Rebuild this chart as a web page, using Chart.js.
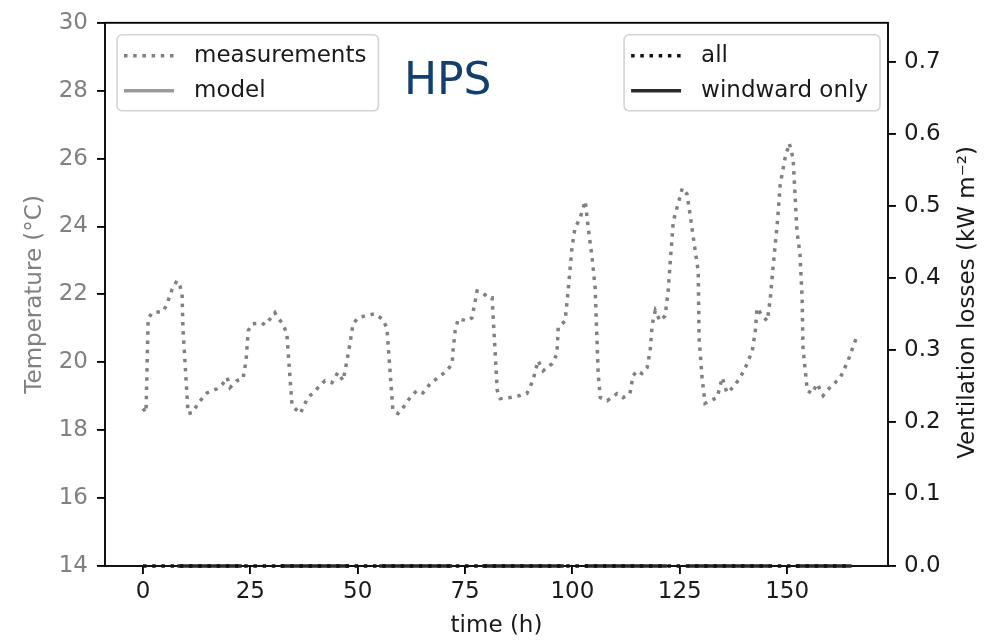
<!DOCTYPE html>
<html>
<head>
<meta charset="utf-8">
<script src="https://cdn.jsdelivr.net/npm/chart.js@4"></script>
<style>
  body { margin: 0; background: #fff; }
</style>
</head>
<body>
<canvas id="hpsChart" width="998" height="640"></canvas>
<script>
const measHours = [0,0.7,1.2,2.1,4.7,5.6,6.8,7.9,8.6,9.1,9.3,10.5,11.6,12.8,14.9,17.2,18.6,19.6,20.3,21.9,23.3,24.0,24.5,25.4,27.7,28.4,29.6,30.7,31.4,32.6,33.5,34.7,36.6,38.4,39.6,40.8,42.4,44.0,45.4,46.6,47.5,48.2,48.9,50.1,51.7,54.0,55.7,56.8,58.2,59.4,60.6,62.2,63.8,65.2,66.9,68.7,70.8,72.0,72.2,72.7,73.4,75.5,76.6,77.3,77.8,79.2,80.4,81.3,82.5,83.2,85.5,87.8,89.4,90.8,92.0,93.2,95.3,96.4,96.7,98.3,99.0,99.9,100.6,101.8,103.0,103.7,104.6,105.3,106.0,106.5,108.1,110.4,111.8,113.4,114.1,115.1,116.2,117.4,118.1,118.6,119.3,120.4,121.6,122.3,122.8,123.5,124.6,125.6,126.7,127.4,128.6,129.3,129.5,130.2,130.9,132.1,133.7,134.9,136.0,137.4,139.1,140.7,141.9,142.6,143.0,144.2,145.4,146.1,146.8,147.7,148.4,149.5,150.5,151.4,152.3,153.0,153.5,153.7,154.7,155.8,157.0,158.4,160.0,162.4,164.2,166.3];
const measTemps = [18.64,18.52,21.28,21.46,21.50,21.72,22.16,22.40,22.25,22.00,21.00,18.49,18.52,18.79,19.10,19.22,19.37,19.55,19.26,19.46,19.52,20.05,20.93,21.13,21.16,21.10,21.28,21.46,21.31,21.13,20.84,18.73,18.49,18.96,19.10,19.26,19.46,19.40,19.70,19.46,20.05,20.55,21.13,21.31,21.37,21.43,21.28,21.02,18.58,18.49,18.67,18.96,19.17,19.10,19.37,19.55,19.75,19.96,20.34,20.93,21.28,21.22,21.31,21.75,22.10,22.04,21.90,21.90,19.17,18.93,18.96,19.02,19.08,19.46,20.05,19.75,19.96,20.25,21.02,21.22,22.10,23.37,23.95,24.25,24.75,23.95,23.07,22.19,19.67,18.96,18.87,19.08,18.96,19.08,19.60,19.75,19.67,19.84,20.34,21.13,21.52,21.22,21.37,22.10,22.98,24.16,24.66,25.13,24.95,24.36,23.28,22.69,20.72,19.55,18.79,18.87,18.96,19.55,19.10,19.26,19.55,19.96,20.34,20.93,21.60,21.37,21.22,21.90,22.90,24.07,25.24,26.00,26.45,26.00,23.86,23.19,21.90,20.43,19.17,19.08,19.37,19.02,19.26,19.55,20.05,20.78];

// ventilation losses (all zero in the figure)
const allHours = [0, 165];
const allLosses = [0, 0];
const windStart = [8, 32, 55, 79, 103, 127, 152];
const windEnd = [23, 48, 72, 98, 122, 146, 165];
const windLoss = 0;

const xTicks = [0, 25, 50, 75, 100, 125, 150];
const tempTicks = [14, 16, 18, 20, 22, 24, 26, 28, 30];
const lossTicks = [0, 0.1, 0.2, 0.3, 0.4, 0.5, 0.6, 0.7];

const FONT = "'DejaVu Sans', sans-serif";
const DOT = [3.5, 5.7];

const measData = measHours.map((h, i) => ({ x: h, y: measTemps[i] }));
const allData = allHours.map((h, i) => ({ x: h, y: allLosses[i] }));
const windData = [];
windStart.forEach((s, i) => {
  windData.push({ x: s, y: windLoss }, { x: windEnd[i], y: windLoss }, { x: windEnd[i], y: null });
});

const legendGroups = [
  { items: [0, 1], side: "left" },
  { items: [2, 3], side: "right" },
];

const decorPlugin = {
  id: "decor",
  beforeDatasetsDraw(chart) {
    const { ctx, chartArea: a } = chart;
    ctx.save();
    ctx.strokeStyle = "#000";
    ctx.lineWidth = 1.85;
    ctx.strokeRect(a.left, a.top, a.right - a.left, a.bottom - a.top);
    ctx.restore();
  },
  afterDatasetsDraw(chart) {
    const { ctx, chartArea: a } = chart;
    ctx.save();
    ctx.font = "23px " + FONT;
    ctx.textBaseline = "middle";

    legendGroups.forEach((g) => {
      const labels = g.items.map((i) => chart.data.datasets[i].label);
      const textW = Math.max(...labels.map((l) => ctx.measureText(l).width));
      const boxW = 7 + 50 + 20 + textW + 12;
      const boxX = g.side === "left" ? a.left + 12 : a.right - 8 - boxW;
      const boxY = a.top + 12;
      const boxH = 76;
      ctx.fillStyle = "rgba(255,255,255,0.8)";
      ctx.strokeStyle = "#d4d4d4";
      ctx.lineWidth = 1.6;
      ctx.beginPath();
      ctx.roundRect(boxX, boxY, boxW, boxH, 5);
      ctx.fill();
      ctx.stroke();
      g.items.forEach((di, row) => {
        const ds = chart.data.datasets[di];
        const y = a.top + 33 + row * 35;
        ctx.beginPath();
        ctx.setLineDash(ds.borderDash || []);
        ctx.strokeStyle = ds.borderColor;
        ctx.lineWidth = ds.borderWidth;
        ctx.moveTo(boxX + 7, y);
        ctx.lineTo(boxX + 57, y);
        ctx.stroke();
        ctx.setLineDash([]);
        ctx.fillStyle = "#1a1a1a";
        ctx.textAlign = "left";
        ctx.fillText(ds.label, boxX + 77, y);
      });
    });

    // annotation
    ctx.font = "44px " + FONT;
    ctx.fillStyle = "#123f6e";
    ctx.textAlign = "left";
    ctx.textBaseline = "alphabetic";
    ctx.fillText("HPS", a.left + 299, a.top + 71);

    // right axis title, reads bottom to top like the left one
    ctx.font = "23px " + FONT;
    ctx.fillStyle = "#1a1a1a";
    ctx.textAlign = "center";
    ctx.textBaseline = "middle";
    ctx.translate(968, (a.top + a.bottom) / 2 + 8);
    ctx.rotate(-Math.PI / 2);
    ctx.fillText("Ventilation losses (kW m\u207B\u00B2)", 0, 0);
    ctx.restore();
  },
};

const tickGrid = {
  drawOnChartArea: false,
  drawTicks: true,
  tickLength: 8,
  color: "#000",
  lineWidth: 1.85,
};

const ctx = document.getElementById("hpsChart").getContext("2d");
new Chart(ctx, {
  type: "line",
  data: {
    datasets: [
      {
        label: "measurements",
        data: measData,
        yAxisID: "yT",
        borderColor: "#808080",
        borderWidth: 3.5,
        borderDash: DOT,
        pointRadius: 0,
        tension: 0,
        clip: false,
      },
      {
        label: "model",
        data: [],
        yAxisID: "yT",
        borderColor: "#9a9a9a",
        borderWidth: 3.5,
        pointRadius: 0,
      },
      {
        label: "all",
        data: allData,
        yAxisID: "yV",
        borderColor: "#111",
        borderWidth: 3.5,
        borderDash: DOT,
        pointRadius: 0,
        clip: false,
      },
      {
        label: "windward only",
        data: windData,
        yAxisID: "yV",
        borderColor: "#2a2a2a",
        borderWidth: 3.5,
        pointRadius: 0,
        spanGaps: false,
        clip: false,
      },
    ],
  },
  options: {
    responsive: false,
    animation: false,
    devicePixelRatio: 1,
    layout: { padding: { top: 21, left: 0, right: 0, bottom: 0 } },
    plugins: { legend: { display: false }, tooltip: { enabled: false } },
    scales: {
      x: {
        type: "linear",
        min: -8.85,
        max: 173.5,
        afterBuildTicks: (s) => { s.ticks = xTicks.map((v) => ({ value: v })); },
        afterFit: (s) => { s.height = 74; },
        grid: tickGrid,
        border: { display: false },
        ticks: { color: "#1a1a1a", font: { family: FONT, size: 23 }, padding: 4, maxRotation: 0 },
        title: { display: true, text: "time (h)", color: "#1a1a1a", font: { family: FONT, size: 23 }, padding: { top: 0, bottom: 0 } },
      },
      yT: {
        position: "left",
        min: 14,
        max: 30,
        afterBuildTicks: (s) => { s.ticks = tempTicks.map((v) => ({ value: v })); },
        afterFit: (s) => { s.width = 105; },
        grid: tickGrid,
        border: { display: false },
        ticks: { color: "#808080", font: { family: FONT, size: 23 }, padding: 9 },
        title: { display: true, text: "Temperature (\u00B0C)", color: "#808080", font: { family: FONT, size: 23 }, padding: { top: 21, bottom: 0 } },
      },
      yV: {
        position: "right",
        min: 0,
        max: 0.755,
        afterBuildTicks: (s) => { s.ticks = lossTicks.map((v) => ({ value: v })); },
        afterFit: (s) => { s.width = 110; },
        grid: tickGrid,
        border: { display: false },
        ticks: { color: "#1a1a1a", font: { family: FONT, size: 23 }, padding: 8, callback: (v) => v.toFixed(1) },
      },
    },
  },
  plugins: [decorPlugin],
});
</script>
</body>
</html>
